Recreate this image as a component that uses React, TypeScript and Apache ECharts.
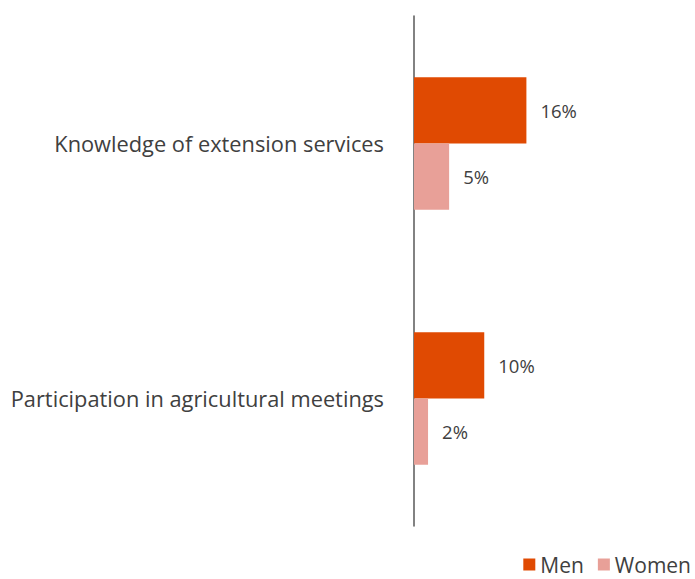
import React, { useEffect, useRef } from "react";
import * as echarts from "echarts";

const categories = ["Knowledge of extension services", "Participation in agricultural meetings"];
const menValues = [16, 10];
const womenValues = [5, 2];
const seriesNames = ["Men", "Women"];

export default function App() {
  const ref = useRef<HTMLDivElement>(null);
  useEffect(() => {
    document.body.style.margin = "0";
    const chart = echarts.init(ref.current!, null, { renderer: "svg" });
    const font = "'Open Sans', sans-serif";
    const label = {
      show: true,
      position: "right" as const,
      distance: 14,
      formatter: "{c}%",
      color: "#404040",
      fontSize: 18.5,
      fontFamily: font,
    };
    chart.setOption({
      animation: false,
      grid: { left: 414, right: 0, top: 16, bottom: 53, containLabel: false },
      legend: {
        data: seriesNames,
        right: 4,
        bottom: 4,
        padding: 0,
        itemWidth: 12,
        itemHeight: 12,
        itemGap: 14,
        icon: "rect",
        textStyle: { color: "#404040", fontSize: 21, fontFamily: font },
      },
      xAxis: {
        type: "value",
        min: 0,
        max: 40,
        show: false,
      },
      yAxis: {
        type: "category",
        data: categories,
        inverse: true,
        axisLine: { show: true, lineStyle: { color: "#595959", width: 1.5 } },
        axisTick: { show: false },
        axisLabel: { color: "#404040", fontSize: 21.8, fontFamily: font, margin: 30, padding: [0, 0, 3, 0] },
      },
      series: [
        {
          name: seriesNames[0],
          type: "bar",
          data: menValues,
          barGap: "0%",
          barCategoryGap: "48%",
          itemStyle: { color: "#E04A02" },
          label,
        },
        {
          name: seriesNames[1],
          type: "bar",
          data: womenValues,
          barGap: "0%",
          barCategoryGap: "48%",
          itemStyle: { color: "#E8A098" },
          label,
        },
      ],
    });
    return () => chart.dispose();
  }, []);
  return <div ref={ref} style={{ width: 695, height: 579 }} />;
}
